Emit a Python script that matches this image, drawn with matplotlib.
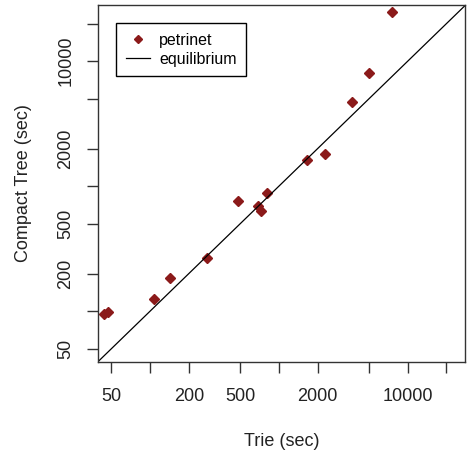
import matplotlib
matplotlib.use("Agg")
import matplotlib.pyplot as plt

plt.rcParams['font.family'] = ['Liberation Sans', 'DejaVu Sans']

# timings (seconds)
trie = [43.7, 47.0, 107, 144, 279, 485, 693, 723, 814, 1653, 2280, 3670, 5030, 7580]
compact = [95, 98, 126, 183, 266, 766, 698, 630, 883, 1631, 1800, 4700, 8020, 24800]

tickValues = [50, 100, 200, 500, 1000, 2000, 5000, 10000, 20000]
tickLabels = ['50', '', '200', '500', '', '2000', '', '10000', '']
limits = (39.5, 28000)

def main():
  fig = plt.figure(figsize=(4.7, 4.54), dpi=100)
  ax = fig.add_axes([0.2085, 0.2033, 0.7815, 0.785])
  ax.set_xscale('log')
  ax.set_yscale('log')
  ax.set_xlim(limits)
  ax.set_ylim(limits)

  ax.plot(trie, compact, 'D', color='#8B1A1A', markersize=5, label='petrinet', linestyle='none')
  ax.plot(limits, limits, color='black', lw=0.9, label='equilibrium')

  ax.minorticks_off()
  ax.set_xticks(tickValues)
  ax.set_xticklabels(tickLabels)
  ax.set_yticks(tickValues)
  ax.set_yticklabels(tickLabels, rotation=90, va='center')
  ax.tick_params(axis='both', length=8, width=1, color='#333333', labelsize=13, labelcolor='#222222')
  ax.tick_params(axis='x', pad=11)
  ax.tick_params(axis='y', pad=9)
  for s in ax.spines.values():
    s.set_color('#333333')
    s.set_linewidth(1)

  ax.set_xlabel('Trie (sec)', fontsize=13, labelpad=20, color='#222222')
  ax.set_ylabel('Compact Tree (sec)', fontsize=13, labelpad=18, color='#222222')

  leg = ax.legend(loc='upper left', bbox_to_anchor=(0.049, 0.9495), fontsize=11.5,
                  fancybox=False, edgecolor='black', framealpha=1,
                  borderaxespad=0, borderpad=0.6, labelspacing=0.25,
                  handlelength=1.5, handletextpad=0.6, markerscale=0.8)
  leg.get_frame().set_linewidth(1)

  fig.savefig('out.png', dpi=100)

if __name__ == "__main__":
  main()
